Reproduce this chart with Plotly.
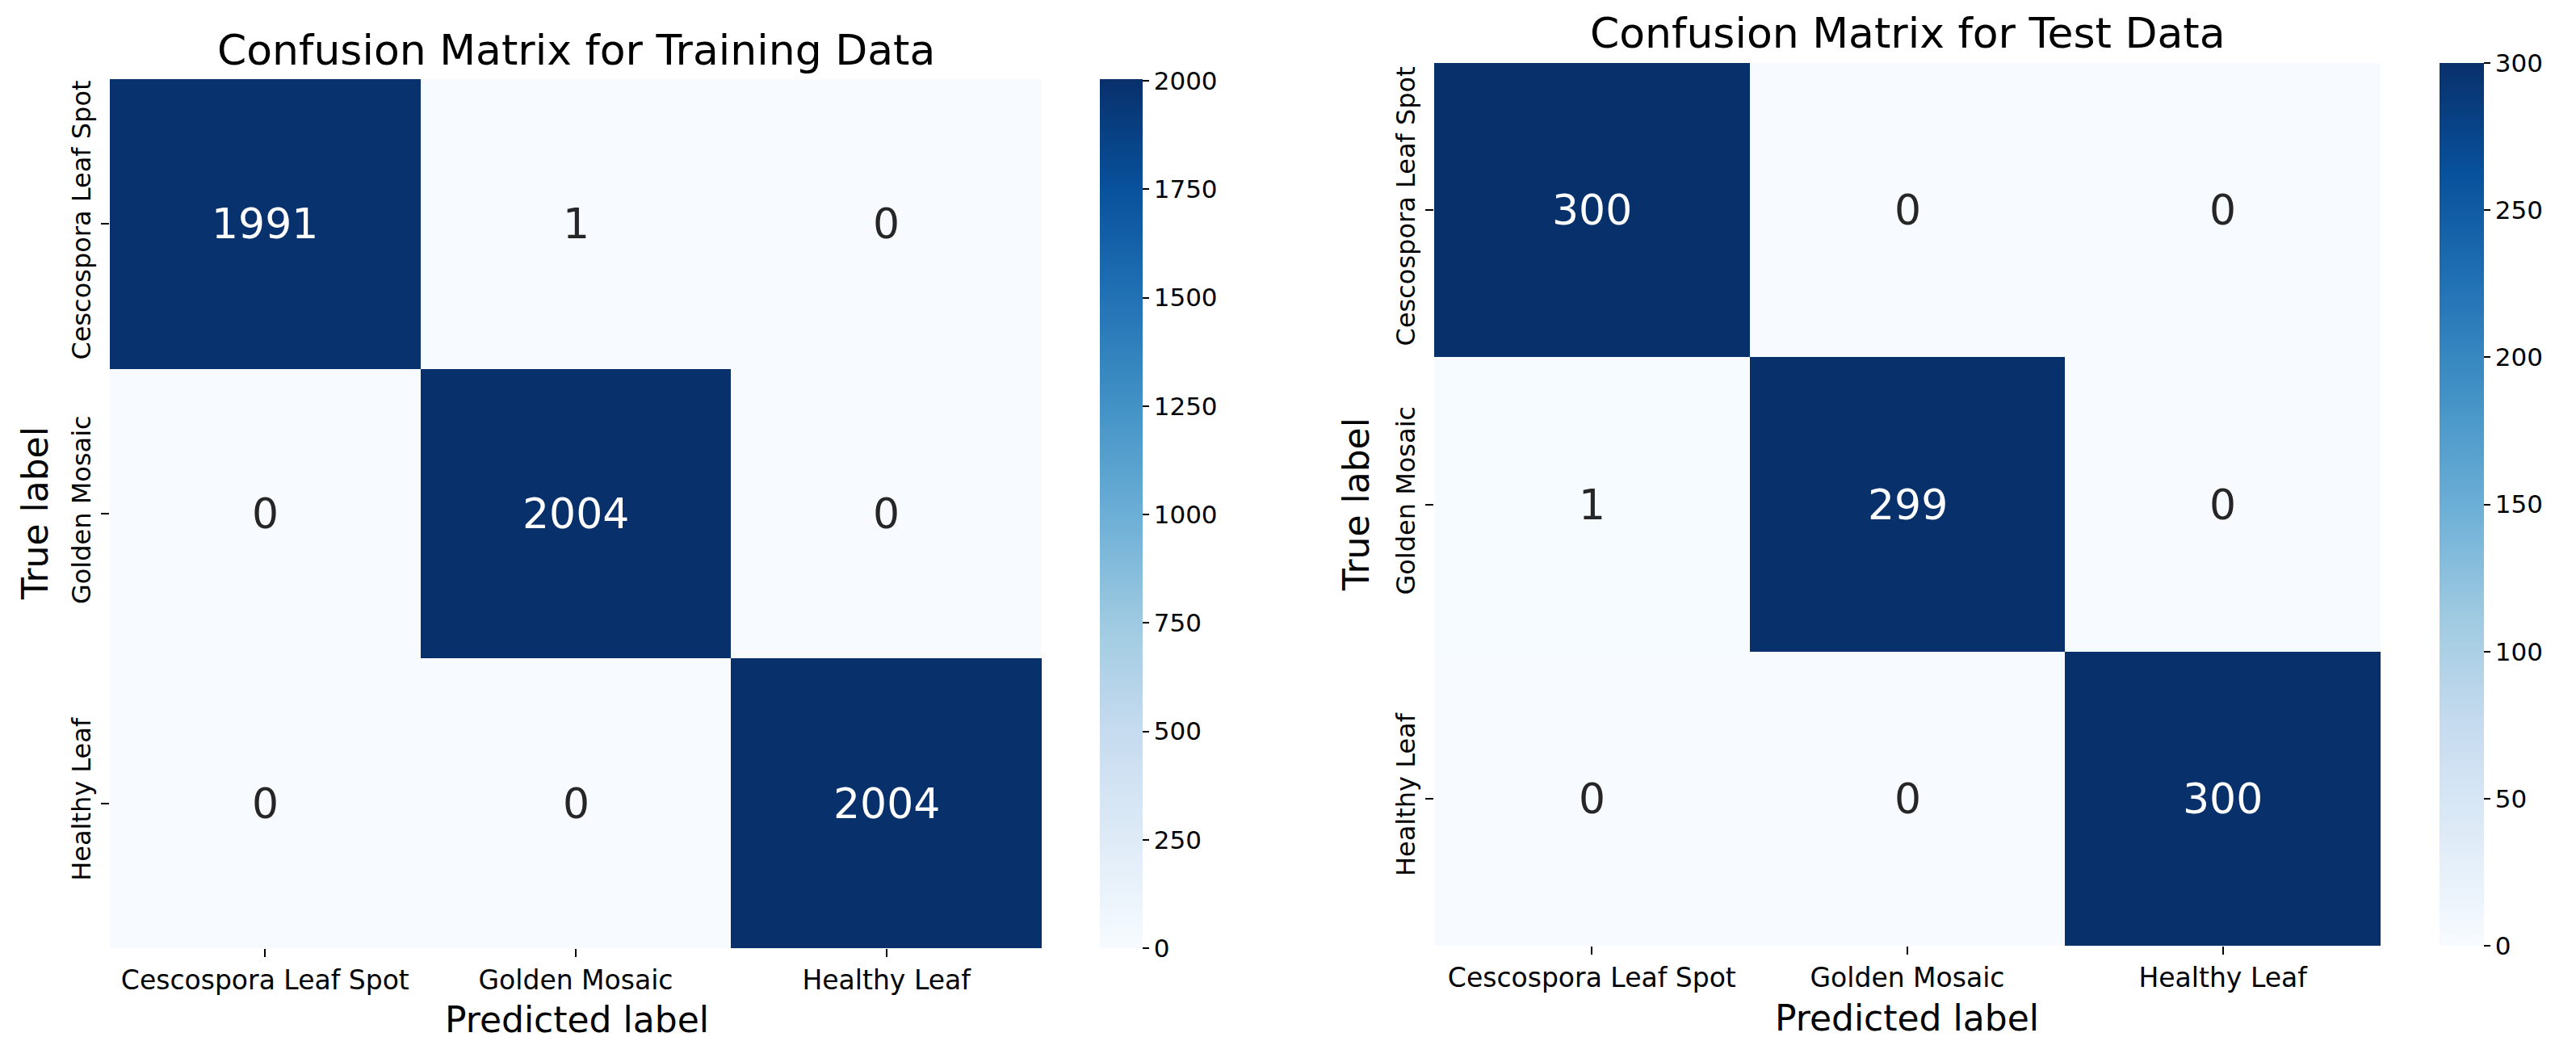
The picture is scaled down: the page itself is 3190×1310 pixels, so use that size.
import plotly.graph_objects as go

# class names and confusion matrices (rows = true, cols = predicted)
labels = ["Cescospora Leaf Spot", "Golden Mosaic", "Healthy Leaf"]
train_cm = [[1991, 1, 0],
            [0, 2004, 0],
            [0, 0, 2004]]
test_cm = [[300, 0, 0],
           [1, 299, 0],
           [0, 0, 300]]
train_ticks = [0, 250, 500, 750, 1000, 1250, 1500, 1750, 2000]
test_ticks = [0, 50, 100, 150, 200, 250, 300]
titles = ["Confusion Matrix for Training Data", "Confusion Matrix for Test Data"]

W, H = 3190, 1310
OFF = 8  # page body margin, the figure is drawn 8px in from the corner
FONT = "DejaVu Sans, Liberation Sans, sans-serif"

# matplotlib "Blues"
blues = ["#f7fbff", "#deebf7", "#c6dbef", "#9ecae1", "#6baed6",
         "#4292c6", "#2171b5", "#08519c", "#08306b"]
colorscale = [[i / (len(blues) - 1), c] for i, c in enumerate(blues)]


def px_x(p):
    return (p - OFF) / W


def px_y(p):
    return 1 - (p - OFF) / H


# pixel boxes of each panel: heatmap (left, right, top, bottom), colorbar left/width
panels = [
    dict(hm=(136, 1290, 98, 1174), cb=(1362, 53), title=(713, 62),
         xlab=(714, 1262), ylab=(44, 636)),
    dict(hm=(1776, 2948, 78, 1171), cb=(3021, 55), title=(2362, 41),
         xlab=(2361, 1260), ylab=(1679, 624)),
]

fig = go.Figure()
annotations = []

for i, (cm, ticks) in enumerate([(train_cm, train_ticks), (test_cm, test_ticks)]):
    p = panels[i]
    l, r, t, b = p["hm"]
    xa = "x" if i == 0 else "x2"
    ya = "y" if i == 0 else "y2"
    zmax = max(max(row) for row in cm)
    fig.add_trace(go.Heatmap(
        z=cm, x=labels, y=labels, xaxis=xa, yaxis=ya,
        colorscale=colorscale, zmin=0, zmax=zmax,
        colorbar=dict(
            x=px_x(p["cb"][0]), xanchor="left", xpad=0, ypad=0,
            thickness=p["cb"][1], thicknessmode="pixels",
            len=(b - t) / H, lenmode="fraction",
            y=px_y((t + b) / 2), yanchor="middle",
            outlinewidth=0, ticks="outside", ticklen=8, tickwidth=2,
            tickcolor="black", tickvals=ticks,
            tickfont=dict(size=31, color="black", family=FONT),
        ),
        hoverongaps=False,
    ))
    for ri, row in enumerate(cm):
        for ci, v in enumerate(row):
            annotations.append(dict(
                x=labels[ci], y=labels[ri], xref=xa, yref=ya,
                text=str(v), showarrow=False,
                font=dict(size=52, family=FONT,
                          color="white" if v > zmax / 2 else "#262626"),
            ))
    annotations.append(dict(
        x=px_x(p["title"][0]), y=px_y(p["title"][1]), xref="paper", yref="paper",
        text=titles[i], showarrow=False, xanchor="center", yanchor="middle",
        font=dict(size=52, family=FONT, color="black"),
    ))
    annotations.append(dict(
        x=px_x(p["xlab"][0]), y=px_y(p["xlab"][1]), xref="paper", yref="paper",
        text="Predicted label", showarrow=False, xanchor="center", yanchor="middle",
        font=dict(size=44, family=FONT, color="black"),
    ))
    annotations.append(dict(
        x=px_x(p["ylab"][0]), y=px_y(p["ylab"][1]), xref="paper", yref="paper",
        text="True label", showarrow=False, xanchor="center", yanchor="middle",
        textangle=-90, font=dict(size=44, family=FONT, color="black"),
    ))

axis_common = dict(showgrid=False, zeroline=False, showline=False,
                   ticks="outside", ticklen=10, tickwidth=2, tickcolor="black")

for i, p in enumerate(panels):
    l, r, t, b = p["hm"]
    sfx = "" if i == 0 else "2"
    fig.layout["xaxis" + sfx] = dict(
        domain=[px_x(l), px_x(r)], anchor="y" + sfx, tickangle=0,
        tickfont=dict(size=33, family=FONT, color="black"), **axis_common)
    fig.layout["yaxis" + sfx] = dict(
        domain=[px_y(b), px_y(t)], anchor="x" + sfx, autorange="reversed",
        tickangle=-90, tickfont=dict(size=32, family=FONT, color="black"),
        **axis_common)

fig.update_layout(
    width=W, height=H, autosize=False,
    margin=dict(l=0, r=0, t=0, b=0, pad=0),
    paper_bgcolor="white", plot_bgcolor="white",
    font=dict(family=FONT, color="black"),
    annotations=annotations,
)

fig.write_html("out.html")
